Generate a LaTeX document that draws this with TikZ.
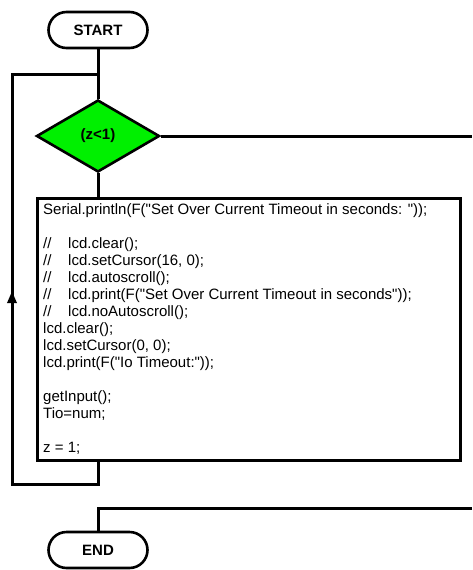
\documentclass[tikz,border=0pt]{standalone}
\usepackage{fontspec}
\setmainfont{Liberation Sans}[Ligatures=TeXOff]
\usetikzlibrary{arrows.meta,shapes.geometric,calc}
\definecolor{decgreen}{RGB}{0,240,0}
\tikzset{
  line/.style={line width=3pt, line join=miter},
  term/.style={draw, line width=2.6pt, rounded corners=18pt, minimum width=99pt, minimum height=36pt, font=\fontsize{15}{17}\selectfont\bfseries, inner sep=0pt},
  decision/.style={draw, line width=2.6pt, diamond, fill=decgreen, minimum width=123pt, minimum height=72pt, aspect=1.7, font=\fontsize{15}{17}\selectfont\bfseries, inner sep=0pt},
  procbox/.style={draw, line width=3pt, rectangle, minimum width=423pt, minimum height=262pt, inner sep=0pt, anchor=north west},
  codetext/.style={anchor=north west, align=left, inner sep=0pt, font=\fontsize{15}{17}\selectfont},
}
\newcommand{\cmt}{\makebox[25pt][l]{//}}
\begin{document}
\begin{tikzpicture}[x=1pt,y=-1pt]
\useasboundingbox (0,0) rectangle (472,570);
\node[term] (start) at (98,30) {START};
\node[decision] (dec) at (98,136) {(z<1)};
\node[procbox] (box) at (36,197) {};
\node[codetext] (code) at (43,203) {%
Serial.println(F("Set Over Current Timeout in seconds: "));\\
\mbox{}\\
\cmt lcd.clear();\\
\cmt lcd.setCursor(16, 0);\\
\cmt lcd.autoscroll();\\
\cmt lcd.print(F("Set Over Current Timeout in seconds"));\\
\cmt lcd.noAutoscroll();\\
lcd.clear();\\
lcd.setCursor(0, 0);\\
lcd.print(F("Io Timeout:"));\\
\mbox{}\\
getInput();\\
Tio=num;\\
\mbox{}\\
z = 1;};
\node[term] (end) at (98,550) {END};
\coordinate (join) at (98,74);
\coordinate (loopTL) at (12,74);
\coordinate (loopBL) at (12,484);
\coordinate (loopBR) at (98,484);
\coordinate (arrowpt) at (12,291);
\coordinate (exitR) at (472,136);
\coordinate (endR) at (472,508);
\coordinate (endL) at (98,508);
\draw[line] (start.south) -- (dec.north);
\draw[line] (dec.south) -- (box.north -| dec.south);
\draw[line] (dec.east) -- (exitR);
\draw[line] (box.south -| dec.south) -- (loopBR) -- (loopBL) -- (arrowpt);
\draw[line] (arrowpt) -- (loopTL) -- (join);
\draw[line, -{Triangle[length=12pt,width=9pt]}] (loopBL) -- (arrowpt);
\draw[line] (endR) -- (endL) -- (end.north);
\end{tikzpicture}
\end{document}
